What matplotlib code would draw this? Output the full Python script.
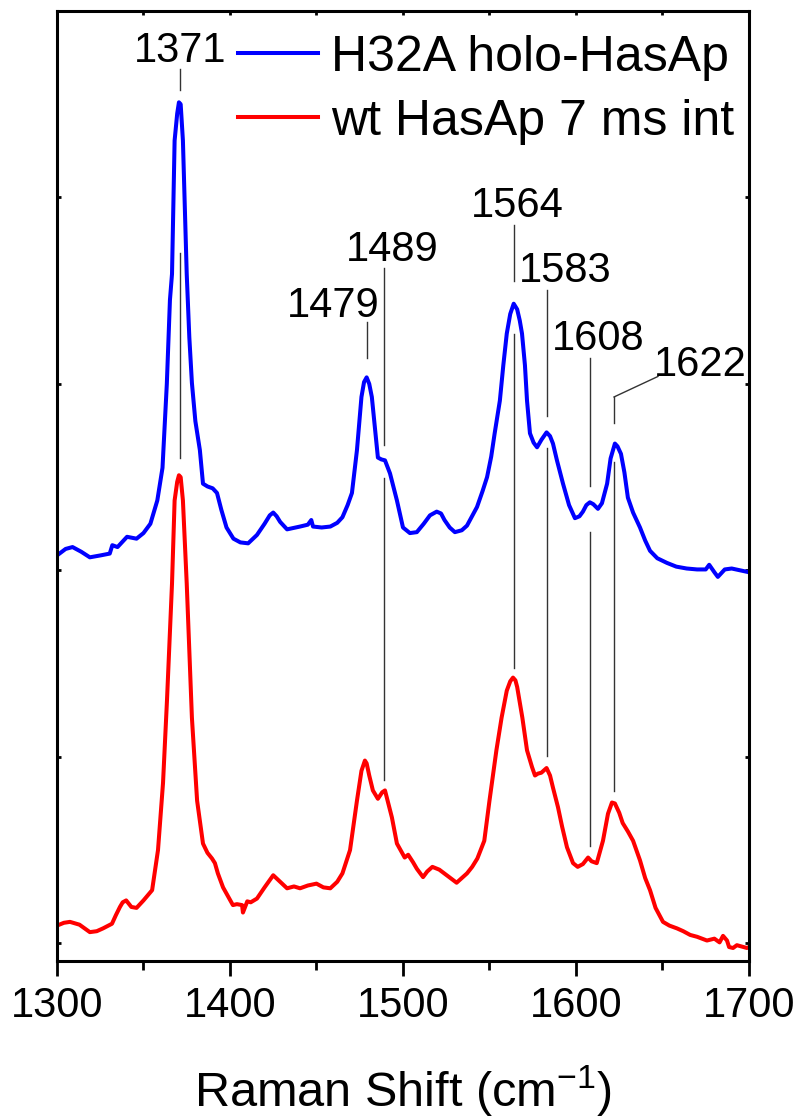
import numpy as np
import matplotlib.pyplot as plt

plt.rcParams['font.family'] = ['Liberation Sans', 'DejaVu Sans']
plt.rcParams['mathtext.fontset'] = 'custom'
plt.rcParams['mathtext.rm'] = 'Liberation Sans'
plt.rcParams['mathtext.it'] = 'Liberation Sans'

## H32A holo-HasAp spectrum (offset upward)
holo_x = [1300, 1305, 1309, 1314, 1319, 1325, 1330.5, 1332, 1335, 1340.5, 1346, 1350,
          1354, 1358, 1361, 1363.5, 1365.3, 1366.5, 1368, 1369.5, 1370.5, 1371.5, 1372.8,
          1375, 1376.5, 1378, 1380, 1382.6, 1384.4, 1387, 1390, 1392.5, 1395, 1398, 1402,
          1406, 1410.5, 1415.6, 1420, 1423, 1425, 1427, 1429, 1433, 1440.5, 1445, 1447,
          1448, 1453, 1458, 1462, 1465, 1468, 1470.5, 1473.4, 1476, 1477.5, 1479, 1480.5,
          1482, 1485.5, 1487.5, 1489.6, 1492.5, 1496.5, 1500, 1504, 1508, 1512, 1515.6,
          1519.5, 1522, 1524, 1527, 1530, 1534, 1537, 1542.8, 1546, 1548.6, 1551, 1553,
          1556, 1558, 1560, 1562, 1564, 1566, 1567.5, 1568.8, 1570.5, 1571.7, 1573.4,
          1575.5, 1577.5, 1580, 1583, 1585, 1586.7, 1589, 1592.5, 1596, 1599.4, 1602,
          1604, 1606, 1608, 1610, 1612.7, 1615, 1618, 1620, 1622.5, 1624, 1626, 1628,
          1630, 1633, 1637, 1640, 1642.8, 1647, 1652.6, 1658, 1664, 1670, 1675, 1677,
          1680, 1682, 1686, 1690, 1695, 1700]
holo_y = [416, 423, 425, 420, 414, 416, 418, 427, 425, 436, 434, 440,
          450, 475, 510, 600, 690, 718, 861, 890, 902, 900, 861,
          718, 650, 601, 560, 529, 493, 490, 488, 483, 465, 446, 434,
          430, 429, 438, 450, 459, 462, 458, 452, 444, 447, 449, 454,
          447, 446, 447, 451, 457, 470, 483, 529, 586, 602, 607, 600,
          586, 521, 519, 518, 504, 475, 446, 440, 441, 450, 459,
          463, 461, 454, 446, 441, 443, 448, 468, 485, 500, 522, 547,
          582, 620, 654, 675, 686, 680, 668, 654, 620, 582, 547,
          537, 532, 540, 548, 544, 536, 518, 493, 470, 456, 458,
          463, 470, 473, 471, 466, 472, 493, 520, 536, 533, 525, 505,
          478, 462, 446, 432, 421, 413, 408, 404, 402, 401, 401, 406,
          398, 393, 401, 402, 400, 398]

## wt HasAp 7 ms intermediate spectrum
wt_x = [1300, 1304, 1307.5, 1313, 1319, 1323, 1326.6, 1331.8, 1334, 1336.4, 1338, 1340,
        1343, 1346, 1350, 1355, 1358.4, 1361.3, 1363.6, 1366.5, 1368, 1369.5, 1370.5,
        1371.5, 1372.8, 1375, 1378, 1381, 1384.4, 1387, 1389.6, 1391.3, 1393, 1396,
        1401.7, 1404, 1407, 1407.5, 1410, 1412, 1415.6, 1420, 1425, 1429, 1433, 1437,
        1440.5, 1445, 1450, 1454, 1458, 1462, 1465, 1469.4, 1473.4, 1476, 1478, 1479,
        1480.5, 1482.6, 1485.5, 1488, 1489.6, 1491.5, 1493.6, 1496.5, 1498, 1501,
        1503, 1505.8, 1508, 1511.6, 1514, 1517, 1521, 1526, 1531, 1534, 1537, 1540,
        1543, 1547, 1550, 1554, 1557, 1560, 1562, 1563.6, 1565, 1566, 1569, 1571.7,
        1574.6, 1576.3, 1578, 1580, 1583, 1585, 1586.7, 1589.6, 1592, 1594.8, 1598.3,
        1601, 1604, 1607, 1609, 1612, 1615.6, 1618.5, 1620.8, 1622.5, 1625, 1627, 1630,
        1633, 1637, 1640, 1642.8, 1646, 1650.3, 1654, 1658.4, 1662, 1666, 1670, 1675.7,
        1680, 1683, 1685, 1687.3, 1688.5, 1690.8, 1693, 1695, 1698.8, 1700]
wt_y = [19, 22, 23, 20, 12, 13, 16, 21, 30, 39, 44, 46,
        39, 38, 46, 57, 100, 172, 261, 386, 475, 495, 502,
        500, 475, 386, 242, 153, 107, 97, 91, 86, 75, 60,
        41, 42, 41, 33, 45, 44, 48, 60, 73, 66, 59, 61,
        59, 62, 64, 60, 59, 66, 75, 100, 153, 185, 196, 193,
        180, 164, 155, 162, 164, 150, 135, 107, 102, 92,
        95, 87, 80, 71, 77, 82, 79, 72, 65, 70, 75, 82,
        91, 110, 153, 207, 242, 271, 281, 285, 282, 275, 242, 207,
        189, 180, 182, 183, 188, 180, 167, 146, 125, 103, 86,
        82, 85, 92, 88, 86, 110, 139, 151, 150, 140, 129, 120,
        110, 89, 70, 57, 38, 23, 19, 16, 13, 9, 7, 3,
        5, 1, 8, 3, -4, -5, -2, -3, -5, -4]

## Band assignments: label text position and guide line spans
peaks = [1371, 1479, 1489, 1564, 1583, 1608, 1622]
label_x = [1371, 1459.5, 1493.6, 1566, 1594, 1612.7, 1671.7]
label_y = [945, 672, 732, 779, 709, 636, 608]
upper_lo = [915, 628, 534, 710, 566, 491, 558]
upper_hi = [938, 666, 724, 770, 701, 628, 586]
lower_lo = [520, None, 175, 295, 201, 104, 163]
lower_hi = [740, None, 499, 654, 531, 441, 516]

fig = plt.figure(figsize=(7.99, 11.18), dpi=100)
ax = fig.add_axes([0.0713, 0.1404, 0.8661, 0.8498])

ax.plot(holo_x, holo_y, color='#0000ff', lw=2.9, solid_joinstyle='round',
        label='H32A holo-HasAp')
ax.plot(wt_x, wt_y, color='#ff0000', lw=2.9, solid_joinstyle='round',
        label='wt HasAp 7 ms int')

gc = '#333333'
for i in range(len(peaks)):
    ax.plot([peaks[i], peaks[i]], [upper_lo[i], upper_hi[i]], color=gc, lw=1)
    if lower_lo[i] is not None:
        ax.plot([peaks[i], peaks[i]], [lower_lo[i], lower_hi[i]], color=gc, lw=1)
    ax.text(label_x[i], label_y[i], str(peaks[i]), fontsize=30,
            ha='center', va='baseline')
# 1622 label sits off to the right, joined by a slanted leader
ax.plot([peaks[6], 1647.4], [upper_hi[6], label_y[6]], color=gc, lw=1)

ax.set_xlim(1300, 1700)
ax.set_ylim(-19, 1000)
ax.set_xticks(np.arange(1300, 1701, 100))
ax.set_xticks(np.arange(1350, 1700, 100), minor=True)
ax.set_yticks(np.arange(0, 1001, 200))
ax.set_yticklabels([])
ax.tick_params(axis='x', which='major', direction='out', length=11, width=2,
               labelsize=30, pad=7)
ax.tick_params(axis='x', which='minor', direction='out', length=6.5, width=2)
ax.tick_params(axis='y', which='both', direction='in', length=3, width=2,
               left=True, right=True)
for s in ax.spines.values():
    s.set_linewidth(2.2)

top = ax.secondary_xaxis('top')
top.set_xticks(np.arange(1300, 1701, 100))
top.set_xticks(np.arange(1350, 1700, 100), minor=True)
top.set_xticklabels([])
top.tick_params(which='both', direction='in', length=3, width=2)

ax.set_xlabel('Raman Shift (cm$^{\\mathregular{-1}}$)', fontsize=35, labelpad=27)

ax.legend(loc='upper left', bbox_to_anchor=(0.262, 0.975), frameon=False,
          fontsize=36, handlelength=1.6, handletextpad=0.26, labelspacing=0.36,
          borderpad=0, borderaxespad=0)

plt.savefig('out.png', dpi=100)
